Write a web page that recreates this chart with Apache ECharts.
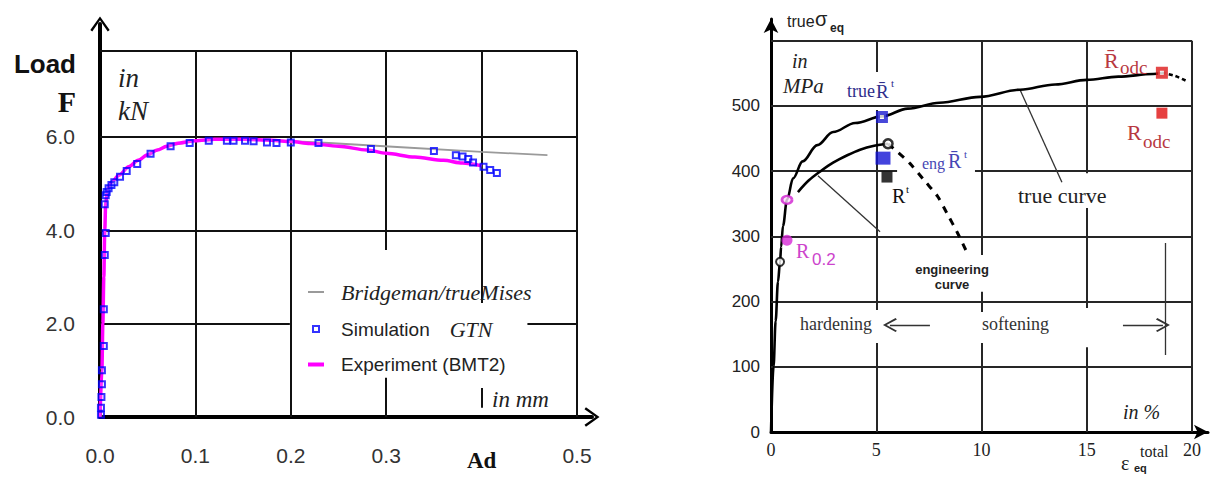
<!DOCTYPE html>
<html><head><meta charset="utf-8">
<script src="https://cdn.jsdelivr.net/npm/echarts@6/dist/echarts.min.js"></script>
<style>html,body{margin:0;padding:0;background:#fff}#c{width:1217px;height:477px}</style>
</head><body><div id="c"></div>
<script>
// ---------- LEFT CHART: Load F (kN) vs displacement Δd (mm) ----------
const experiment = [[0,0],[0.002,1.0],[0.003,2.0],[0.004,3.0],[0.005,4.0],[0.006,4.6],[0.008,4.88],[0.012,5.03],[0.02,5.18],[0.03,5.36],[0.04,5.5],[0.05,5.62],[0.06,5.72],[0.07,5.8],[0.08,5.86],[0.1,5.92],[0.12,5.95],[0.15,5.95],[0.18,5.93],[0.2,5.9],[0.22,5.86],[0.25,5.8],[0.28,5.72],[0.3,5.65],[0.33,5.57],[0.36,5.5],[0.38,5.44],[0.4,5.38]];
const bridgeman = [[0,0],[0.002,1.0],[0.003,2.0],[0.004,3.0],[0.005,4.0],[0.006,4.6],[0.008,4.88],[0.012,5.03],[0.02,5.18],[0.03,5.36],[0.05,5.62],[0.07,5.8],[0.1,5.92],[0.15,5.95],[0.2,5.91],[0.24,5.87],[0.307,5.79],[0.4,5.68],[0.469,5.61]];
const simulation = [[0.001,0.05],[0.001,0.2],[0.0015,0.43],[0.002,0.7],[0.002,1.0],[0.004,1.52],[0.004,2.31],[0.005,3.47],[0.006,3.94],[0.005,4.56],[0.006,4.75],[0.007,4.82],[0.009,4.9],[0.012,4.97],[0.015,5.03],[0.021,5.15],[0.028,5.27],[0.039,5.42],[0.053,5.64],[0.074,5.8],[0.094,5.87],[0.114,5.92],[0.133,5.92],[0.14,5.92],[0.152,5.92],[0.161,5.91],[0.175,5.88],[0.185,5.87],[0.2,5.88],[0.229,5.87],[0.284,5.74],[0.35,5.7],[0.373,5.61],[0.38,5.58],[0.386,5.53],[0.391,5.45],[0.402,5.36],[0.409,5.29],[0.416,5.23]];
const leftXTicks = ['0.0','0.1','0.2','0.3','Ad','0.5'];
const leftYTicks = ['0.0','2.0','4.0','6.0'];

// ---------- RIGHT CHART: true sigma_eq (MPa) vs eps_eq total (%) ----------
const trueCurve = [[0,0],[0.12,100],[0.22,170],[0.33,230],[0.43,261],[0.48,284],[0.57,316],[0.76,356],[1.05,389],[1.5,415],[2.2,440],[2.95,460],[4,474],[5.27,484],[6.5,496],[8,505],[9.93,514],[11.83,525],[13.5,533],[15,540],[16.5,545],[18.15,549],[18.57,551]];
const trueTail = [[18.57,551],[19.2,546],[19.76,538]];
const engSolid = [[1.28,368],[1.8,386],[2.4,401],[2.95,413],[3.6,424],[4.23,433],[4.9,439],[5.56,442]];
const engDashed = [[5.56,442],[6.0,430],[6.6,412],[7.3,385],[7.9,362],[8.4,333],[8.85,306],[9.3,276]];
const ptTrueRt = [[5.27,483]];
const ptEngRt = [[5.32,420]];
const ptRprime = [[5.51,391]];
const ptEngMax = [[5.56,442]];
const ptRodcBar = [[18.57,551]];
const ptRodc = [[18.57,489]];
const ptR02True = [[0.76,356]];
const ptR02 = [[0.76,294]];
const ptYield = [[0.43,261]];
const rightXTicks = [0,5,10,15,20];
const rightYTicks = [0,100,200,300,400,500];

// ---------- frame / grid segments (drawn through the axes' scales) ----------
const LTOP = 7.84;
const leftGridSegs = [
  [[0,2],[0.199,2]],[[0.448,2],[0.5,2]],[[0,4],[0.5,4]],[[0,6],[0.5,6]],[[0,LTOP],[0.5,LTOP]],
  [[0.1,0],[0.1,LTOP]],[[0.2,0],[0.2,LTOP]],[[0.3,0],[0.3,0.84]],[[0.3,3.58],[0.3,LTOP]],
  [[0.4,0.2],[0.4,0.62]],[[0.4,2.44],[0.4,LTOP]],[[0.5,0],[0.5,LTOP]]
];
const rightGridSegs = [
  [[0,100],[20,100]],[[0,200],[20,200]],[[0,300],[20,300]],[[0,400],[5.99,400]],[[9.69,400],[20,400]],[[0,500],[20,500]],[[0,600],[20,600]],
  [[5,0],[5,136.5]],[[5,187],[5,494]],[[5,552],[5,600]],
  [[10,0],[10,136.5]],[[10,184],[10,215]],[[10,271.5],[10,600]],
  [[15,0],[15,130]],[[15,190],[15,343.6]],[[15,397],[15,600]],
  [[20,0],[20,600]]
];
const leaderSegs = [[[2.23,393],[5.18,307]],[[11.83,525],[13.82,383]],[[18.72,290],[18.72,118]]];
const arrowSegs = [[[7.55,164],[5.65,164]],[[16.72,164],[18.62,164]]];

const chevron = 'path://M0,14 L10,0 L20,14 L18,15.5 L10,4 L2,15.5 Z';
const SERIF = '"Liberation Serif", "DejaVu Serif", serif';
const SANS = '"Liberation Sans", Arial, sans-serif';

function T(x, y, text, font, fill, align) {
  return {type:'text', x:x, y:y, silent:true, z:50,
    style:{text:text, font:font, fill:fill||'#222', align:align||'left', verticalAlign:'middle'}};
}
const NAVY = '#2e2e8c', RED = '#b8383f', MAG = '#cc44cc';

const option = {
  backgroundColor:'#fff',
  animation:false,
  grid:[
    {left:100, top:24, width:492, height:393},
    {left:771, top:19, width:437, height:413}
  ],
  xAxis:[
    {gridIndex:0, type:'value', min:0, max:0.5157, interval:0.1,
     axisLine:{lineStyle:{color:'#000', width:4}, symbol:['none', chevron], symbolSize:[20,15]},
     axisTick:{show:false}, splitLine:{show:false},
     axisLabel:{showMaxLabel:false, margin:28, color:'#333', fontFamily:SANS, fontSize:21,
       formatter:function(v){const i=Math.round(v*10); if(Math.abs(v*10-i)>1e-6||i<0||i>=leftXTicks.length) return ''; return leftXTicks[i]==='Ad'?'{b|Ad}':leftXTicks[i];},
       rich:{b:{fontFamily:SERIF, fontWeight:'bold', fontSize:23, color:'#111', padding:[4,0,0,0]}}}},
    {gridIndex:1, type:'value', min:0, max:20.76, interval:5,
     axisLine:{lineStyle:{color:'#000', width:3}, symbol:['none','arrow'], symbolSize:[11,14]},
     axisTick:{show:false}, splitLine:{show:false},
     axisLabel:{showMaxLabel:false, margin:9, color:'#222', fontFamily:SERIF, fontSize:18,
       formatter:function(v){return rightXTicks.indexOf(v)>=0?String(v):'';}}}
  ],
  yAxis:[
    {gridIndex:0, type:'value', min:0, max:8.42, interval:2,
     axisLine:{lineStyle:{color:'#000', width:4}, symbol:['none', chevron], symbolSize:[26,15]},
     axisTick:{show:false}, splitLine:{show:false},
     axisLabel:{showMaxLabel:false, margin:25, color:'#333', fontFamily:SANS, fontSize:21, padding:[6,0,0,0],
       formatter:function(v){const i=Math.round(v/2); return (Math.abs(v/2-i)<1e-6&&i<leftYTicks.length)?leftYTicks[i]:'';}}},
    {gridIndex:1, type:'value', min:0, max:633.4, interval:100,
     axisLine:{lineStyle:{color:'#000', width:3}, symbol:['none','arrow'], symbolSize:[11,14]},
     axisTick:{show:false}, splitLine:{show:false},
     axisLabel:{showMaxLabel:false, margin:11, color:'#222', fontFamily:SANS, fontSize:17,
       formatter:function(v){return rightYTicks.indexOf(v)>=0?String(v):'';}}}
  ],
  legend:{
    orient:'vertical', left:303, top:276, itemWidth:16, itemHeight:8, itemGap:15,
    selectedMode:false,
    data:[
      {name:'Bridgeman/trueMises', icon:'path://M0,0H16V2H0Z', itemStyle:{color:'#9a9a9a', borderWidth:0}},
      {name:'Simulation GTN', icon:'path://M0,0H8V8H0Z M2,2V6H6V2Z', itemStyle:{color:'#0000ff', borderWidth:0}},
      {name:'Experiment (BMT2)', icon:'path://M0,0H16V4H0Z', itemStyle:{color:'#ff00ff', borderWidth:0}}
    ],
    formatter:function(name){
      if(name==='Simulation GTN') return '{n|Simulation}{g|GTN}';
      if(name==='Bridgeman/trueMises') return '{i|Bridgeman/trueMises}';
      return '{n|'+name+'}';
    },
    textStyle:{rich:{
      n:{fontFamily:SANS, fontSize:19, color:'#222', lineHeight:24, padding:[0,0,0,12]},
      i:{fontFamily:SERIF, fontStyle:'italic', fontSize:22, color:'#222', lineHeight:24, padding:[0,0,0,12]},
      g:{fontFamily:SERIF, fontStyle:'italic', fontSize:22, color:'#222', lineHeight:24, padding:[0,0,0,20]}
    }}
  },
  series:[
    // left grid lines
    {type:'lines', coordinateSystem:'cartesian2d', xAxisIndex:0, yAxisIndex:0, silent:true, z:1,
     lineStyle:{color:'#111', width:2, opacity:1, type:'solid'}, symbol:'none',
     data:leftGridSegs.map(function(s){return {coords:s};})},
    {name:'Bridgeman/trueMises', type:'line', xAxisIndex:0, yAxisIndex:0, data:bridgeman, showSymbol:false, z:2,
     lineStyle:{color:'#9a9a9a', width:1.8}, itemStyle:{color:'#9a9a9a'}},
    {name:'Experiment (BMT2)', type:'line', xAxisIndex:0, yAxisIndex:0, data:experiment, showSymbol:false, z:3,
     smooth:0.3, smoothMonotone:'x', lineStyle:{color:'#ff00ff', width:3.5}, itemStyle:{color:'#ff00ff'}},
    {name:'Simulation GTN', type:'scatter', xAxisIndex:0, yAxisIndex:0, data:simulation, z:4,
     symbol:'rect', symbolSize:6, itemStyle:{color:'rgba(255,255,255,0.2)', borderColor:'#0000ff', borderWidth:2}},

    // right grid lines
    {type:'lines', coordinateSystem:'cartesian2d', xAxisIndex:1, yAxisIndex:1, silent:true, z:1,
     lineStyle:{color:'#262626', width:2, opacity:1, type:'solid'}, symbol:'none',
     data:rightGridSegs.map(function(s){return {coords:s};})},
    {type:'lines', coordinateSystem:'cartesian2d', xAxisIndex:1, yAxisIndex:1, silent:true, z:2,
     lineStyle:{color:'#333', width:1.3, opacity:1, type:'solid'}, symbol:'none',
     data:leaderSegs.map(function(s){return {coords:s};})},
    {type:'lines', coordinateSystem:'cartesian2d', xAxisIndex:1, yAxisIndex:1, silent:true, z:2,
     lineStyle:{color:'#333', width:1.3, opacity:1, type:'solid'}, symbol:['none', chevron], symbolSize:[1,14],
     data:arrowSegs.map(function(s){return {coords:s};})},
    {name:'true curve', type:'line', xAxisIndex:1, yAxisIndex:1, data:trueCurve, showSymbol:false, z:3,
     smooth:0.35, smoothMonotone:'x', lineStyle:{color:'#000', width:2.6}},
    {name:'true tail', type:'line', xAxisIndex:1, yAxisIndex:1, data:trueTail, showSymbol:false, z:3,
     smooth:0.3, lineStyle:{color:'#000', width:2.6, type:[4,3]}},
    {name:'engineering curve', type:'line', xAxisIndex:1, yAxisIndex:1, data:engSolid, showSymbol:false, z:3,
     smooth:0.35, lineStyle:{color:'#000', width:2.6}},
    {name:'engineering tail', type:'line', xAxisIndex:1, yAxisIndex:1, data:engDashed, showSymbol:false, z:3,
     smooth:0.3, lineStyle:{color:'#000', width:3, type:[7,7]}},
    {type:'scatter', xAxisIndex:1, yAxisIndex:1, data:ptTrueRt, z:5, symbol:'rect', symbolSize:8,
     itemStyle:{color:'#fff', borderColor:'#1a1ad0', borderWidth:4}},
    {type:'scatter', xAxisIndex:1, yAxisIndex:1, data:ptEngRt, z:5, symbol:'rect', symbolSize:[15,13],
     itemStyle:{color:'#1414d4'}},
    {type:'scatter', xAxisIndex:1, yAxisIndex:1, data:ptRprime, z:5, symbol:'rect', symbolSize:11,
     itemStyle:{color:'#000'}},
    {type:'scatter', xAxisIndex:1, yAxisIndex:1, data:ptEngMax, z:6, symbol:'circle', symbolSize:9,
     itemStyle:{color:'#fff', borderColor:'#000', borderWidth:2.5}},
    {type:'scatter', xAxisIndex:1, yAxisIndex:1, data:ptRodcBar, z:5, symbol:'rect', symbolSize:8,
     itemStyle:{color:'#fff', borderColor:'#dd1a1a', borderWidth:4}},
    {type:'scatter', xAxisIndex:1, yAxisIndex:1, data:ptRodc, z:5, symbol:'rect', symbolSize:11,
     itemStyle:{color:'#e01010'}},
    {type:'scatter', xAxisIndex:1, yAxisIndex:1, data:ptR02True, z:5, symbol:'circle', symbolSize:[10,8],
     itemStyle:{color:'#fbe0fb', borderColor:'#d020d0', borderWidth:2.5}},
    {type:'scatter', xAxisIndex:1, yAxisIndex:1, data:ptR02, z:5, symbol:'circle', symbolSize:11,
     itemStyle:{color:'#d629d6'}},
    {type:'scatter', xAxisIndex:1, yAxisIndex:1, data:ptYield, z:5, symbol:'circle', symbolSize:8,
     itemStyle:{color:'#fff', borderColor:'#000', borderWidth:2}}
  ],
  graphic:[
    // left chart titles
    T(76,64,'Load','bold 26px '+SANS,'#111','right'),
    T(76,101,'F','bold 30px '+SERIF,'#111','right'),
    T(118,78,'in','italic 27px '+SERIF),
    T(118,111,'kN','italic 27px '+SERIF),
    T(492,399,'in mm','italic 23px '+SERIF),
    // right chart titles
    T(787,21,'true','16px '+SANS),
    T(815,19,'\u03c3','20px '+SANS),
    T(830,28,'eq','bold 12px '+SANS),
    T(792,61,'in','italic 20px '+SERIF),
    T(783,86,'MPa','italic 21px '+SERIF),
    T(847,91,'true','18px '+SERIF,NAVY),
    T(876,91,'R\u0304','19px '+SERIF,NAVY),
    T(891,83,'t','11px '+SERIF,NAVY),
    T(922,163,'eng','16px '+SERIF,'#4646b4'),
    T(948,161,'R\u0304','20px '+SERIF,'#4646b4'),
    T(964,154,'t','11px '+SERIF,'#4646b4'),
    T(892,196,'R','20px '+SERIF,'#111'),
    T(906,189,'t','11px '+SERIF,'#111'),
    T(1104,60,'R\u0304','22px '+SERIF,RED),
    T(1120,67,'odc','19px '+SERIF,RED),
    T(1127,132,'R','22px '+SERIF,RED),
    T(1143,141,'odc','19px '+SERIF,RED),
    T(796,251,'R','20px '+SERIF,MAG),
    T(812,259,'0.2','17px '+SANS,MAG),
    T(1018,195,'true curve','22px '+SERIF),
    T(952,269,'engineering','bold 13px '+SANS,'#222','center'),
    T(952,284,'curve','bold 13px '+SANS,'#222','center'),
    T(800,324,'hardening','18px '+SERIF,'#333'),
    T(982,324,'softening','18px '+SERIF,'#333'),
    T(1123,412,'in %','italic 20px '+SERIF),
    T(1121,463,'\u03b5','20px '+SERIF),
    T(1140,451,'total','16px '+SERIF),
    T(1134,468,'eq','bold 11px '+SANS)
  ]
};
const chart = echarts.init(document.getElementById('c'), null, {renderer:'svg'});
chart.setOption(option);
</script>
</body></html>
